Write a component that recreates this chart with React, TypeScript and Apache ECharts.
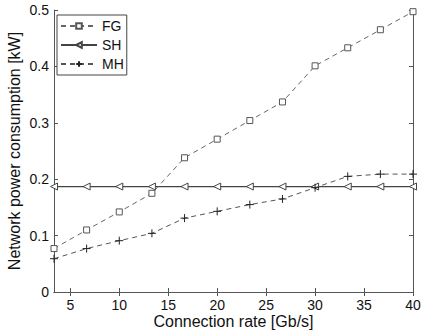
import React, { useEffect, useRef } from "react";
import * as echarts from "echarts";

const rates = [10 / 3, 20 / 3, 10, 40 / 3, 50 / 3, 20, 70 / 3, 80 / 3, 30, 100 / 3, 110 / 3, 40];
const fgValues = [0.077, 0.11, 0.142, 0.175, 0.238, 0.271, 0.304, 0.337, 0.401, 0.433, 0.465, 0.497];
const shValues = [0.187, 0.187, 0.187, 0.187, 0.187, 0.187, 0.187, 0.187, 0.187, 0.187, 0.187, 0.187];
const mhValues = [0.059, 0.077, 0.091, 0.104, 0.131, 0.143, 0.155, 0.165, 0.185, 0.205, 0.209, 0.209];
const xTicks = [5, 10, 15, 20, 25, 30, 35, 40];
const seriesNames = ["FG", "SH", "MH"];

const FONT = "Liberation Sans, Arial, Helvetica, sans-serif";
const AXIS = "#555";

function pairs(vals: number[]) {
  return rates.map((r, i) => [r, vals[i]]);
}

export default function App() {
  const ref = useRef<HTMLDivElement>(null);
  useEffect(() => {
    document.body.style.margin = "0";
    const chart = echarts.init(ref.current!, null, { renderer: "svg" });
    const axisLineStyle = { lineStyle: { color: AXIS, width: 1 } };
    const tickStyle = { inside: true, length: 4, lineStyle: { color: AXIS } };
    chart.setOption({
      animation: false,
      backgroundColor: "#fff",
      textStyle: { fontFamily: FONT },
      grid: { left: 54, right: 12, top: 10, bottom: 40, outerBoundsMode: "none", containLabel: false },
      legend: {
        orient: "vertical",
        left: 57,
        top: 15,
        data: seriesNames,
        backgroundColor: "#fff",
        borderColor: "#444",
        borderWidth: 1,
        borderRadius: 0,
        padding: [3, 3, 3, 3],
        itemGap: 3,
        itemWidth: 36,
        itemHeight: 7,
        textStyle: { fontFamily: FONT, fontSize: 14, color: "#111", lineHeight: 16 },
      },
      xAxis: [
        {
          type: "value",
          min: 10 / 3,
          max: 40,
          name: "Connection rate [Gb/s]",
          nameLocation: "middle",
          nameGap: 21,
          nameMoveOverlap: false,
          nameTextStyle: { fontFamily: FONT, fontSize: 16, color: "#111" },
          axisLine: axisLineStyle,
          axisTick: { ...tickStyle, customValues: xTicks },
          axisLabel: { customValues: xTicks, fontFamily: FONT, fontSize: 14, color: "#111", margin: 6 },
          splitLine: { show: false },
        },
        {
          type: "value",
          position: "top",
          min: 10 / 3,
          max: 40,
          axisLine: axisLineStyle,
          axisTick: { ...tickStyle, customValues: xTicks },
          axisLabel: { show: false },
          splitLine: { show: false },
        },
      ],
      yAxis: [
        {
          type: "value",
          min: 0,
          max: 0.5,
          interval: 0.1,
          name: "Network power consumption [kW]",
          nameLocation: "middle",
          nameGap: 32,
          nameMoveOverlap: false,
          nameTextStyle: { fontFamily: FONT, fontSize: 16, color: "#111" },
          axisLine: { show: true, ...axisLineStyle },
          axisTick: { show: true, ...tickStyle },
          axisLabel: { fontFamily: FONT, fontSize: 14, color: "#111", margin: 5 },
          splitLine: { show: false },
        },
        {
          type: "value",
          position: "right",
          min: 0,
          max: 0.5,
          interval: 0.1,
          axisLine: { show: true, ...axisLineStyle },
          axisTick: { show: true, ...tickStyle },
          axisLabel: { show: false },
          splitLine: { show: false },
        },
      ],
      series: [
        {
          name: "FG",
          type: "line",
          data: pairs(fgValues),
          symbol: "rect",
          symbolSize: 6,
          showAllSymbol: true,
          lineStyle: { color: "#666", width: 1, type: [5, 4] },
          itemStyle: { color: "#fff", borderColor: "#555", borderWidth: 1 },
          z: 3,
        },
        {
          name: "SH",
          type: "line",
          data: pairs(shValues),
          symbol: "triangle",
          symbolRotate: 90,
          symbolSize: 7,
          showAllSymbol: true,
          lineStyle: { color: "#444", width: 1.2, type: "solid" },
          itemStyle: { color: "#fff", borderColor: "#444", borderWidth: 1 },
          z: 2,
        },
        {
          name: "MH",
          type: "line",
          data: pairs(mhValues),
          symbol: "path://M0,5L10,5M5,0L5,10",
          symbolSize: 8,
          showAllSymbol: true,
          lineStyle: { color: "#555", width: 1, type: [5, 4] },
          itemStyle: { color: "none", borderColor: "#222", borderWidth: 1 },
          z: 4,
        },
      ],
    });
    return () => chart.dispose();
  }, []);
  return <div ref={ref} style={{ position: "absolute", left: 0, top: 0, width: 425, height: 332 }} />;
}
